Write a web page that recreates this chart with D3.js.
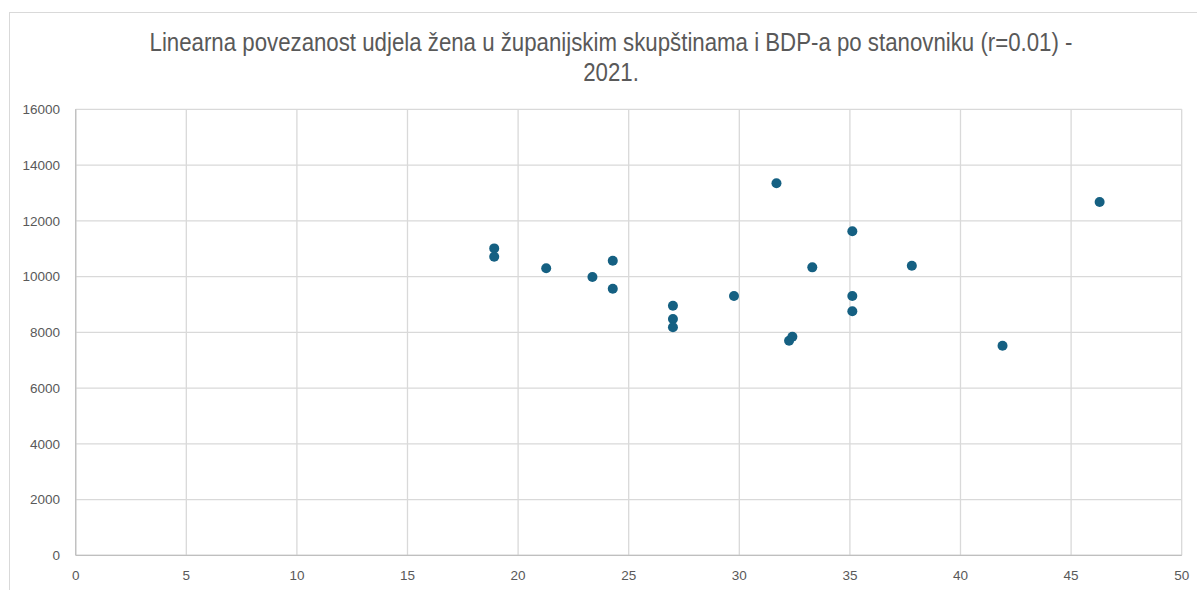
<!DOCTYPE html>
<html>
<head>
<meta charset="utf-8">
<script src="https://cdn.jsdelivr.net/npm/d3@7"></script>
<style>
  html, body { margin: 0; padding: 0; background: #fff; }
  svg { display: block; }
</style>
</head>
<body>
<div id="chart"></div>
<script>
// udio žena u županijskim skupštinama (%) i BDP po stanovniku
var udioZena = [18.92, 18.92, 21.27, 23.36, 24.28, 24.28, 27.0, 27.0, 27.0, 29.76,
                31.68, 32.25, 32.40, 33.30, 35.11, 35.11, 35.11, 37.80, 41.90, 46.29];
var bdpPoStan = [11010, 10710, 10300, 9985, 10570, 9565, 8955, 8480, 8180, 9300,
                 13345, 7700, 7840, 10330, 11625, 9300, 8755, 10390, 7520, 12675];
var xTicks = [0, 5, 10, 15, 20, 25, 30, 35, 40, 45, 50];
var yTicks = [0, 2000, 4000, 6000, 8000, 10000, 12000, 14000, 16000];
var titleLines = ["Linearna povezanost udjela žena u županijskim skupštinama i BDP-a po stanovniku (r=0.01) -", "2021."];

var width = 1197, height = 590;
var margin = {top: 109.3, right: 15.3, bottom: 34.7, left: 75.7};

var svg = d3.select("#chart").append("svg")
    .attr("width", width)
    .attr("height", height);

// chart frame
svg.append("rect")
    .attr("x", 9.5).attr("y", 12.5)
    .attr("width", width + 20).attr("height", height + 20)
    .attr("fill", "#fff")
    .attr("stroke", "#d9d9d9")
    .attr("stroke-width", 1);

var x = d3.scaleLinear().domain([0, 50]).range([margin.left, width - margin.right]);
var y = d3.scaleLinear().domain([0, 16000]).range([height - margin.bottom, margin.top]);

// gridlines
svg.append("g").selectAll("line").data(xTicks).enter().append("line")
    .attr("x1", function(d) { return x(d); }).attr("x2", function(d) { return x(d); })
    .attr("y1", y(0)).attr("y2", y(16000))
    .attr("stroke", "#d9d9d9").attr("stroke-width", 1.3);

svg.append("g").selectAll("line").data(yTicks).enter().append("line")
    .attr("x1", x(0)).attr("x2", x(50))
    .attr("y1", function(d) { return y(d); }).attr("y2", function(d) { return y(d); })
    .attr("stroke", "#d9d9d9").attr("stroke-width", 1.3);

// axis lines a bit darker
svg.append("line")
    .attr("x1", x(0)).attr("x2", x(0)).attr("y1", y(0)).attr("y2", y(16000))
    .attr("stroke", "#bfbfbf").attr("stroke-width", 1.3);
svg.append("line")
    .attr("x1", x(0)).attr("x2", x(50)).attr("y1", y(0)).attr("y2", y(0))
    .attr("stroke", "#bfbfbf").attr("stroke-width", 1.3);

// tick labels
svg.append("g").selectAll("text").data(yTicks).enter().append("text")
    .attr("x", 60)
    .attr("y", function(d) { return y(d); })
    .attr("dy", "0.35em")
    .attr("text-anchor", "end")
    .attr("font-family", "Liberation Sans, Arial, sans-serif")
    .attr("font-size", "13.5px")
    .attr("fill", "#595959")
    .text(function(d) { return d; });

svg.append("g").selectAll("text").data(xTicks).enter().append("text")
    .attr("x", function(d) { return x(d); })
    .attr("y", 575)
    .attr("dy", "0.35em")
    .attr("text-anchor", "middle")
    .attr("font-family", "Liberation Sans, Arial, sans-serif")
    .attr("font-size", "13.5px")
    .attr("fill", "#595959")
    .text(function(d) { return d; });

// title (narrow face not installed, so squeeze horizontally)
svg.append("g")
    .attr("transform", "translate(611,0) scale(0.89,1)")
  .selectAll("text").data(titleLines).enter().append("text")
    .attr("x", 0)
    .attr("y", function(d, i) { return 51 + i * 30; })
    .attr("text-anchor", "middle")
    .attr("font-family", "Liberation Sans, Arial, sans-serif")
    .attr("font-size", "25px")
    .attr("fill", "#595959")
    .text(function(d) { return d; });

// points
svg.append("g").selectAll("circle").data(udioZena).enter().append("circle")
    .attr("cx", function(d) { return x(d); })
    .attr("cy", function(d, i) { return y(bdpPoStan[i]); })
    .attr("r", 5)
    .attr("fill", "#156082");
</script>
</body>
</html>
